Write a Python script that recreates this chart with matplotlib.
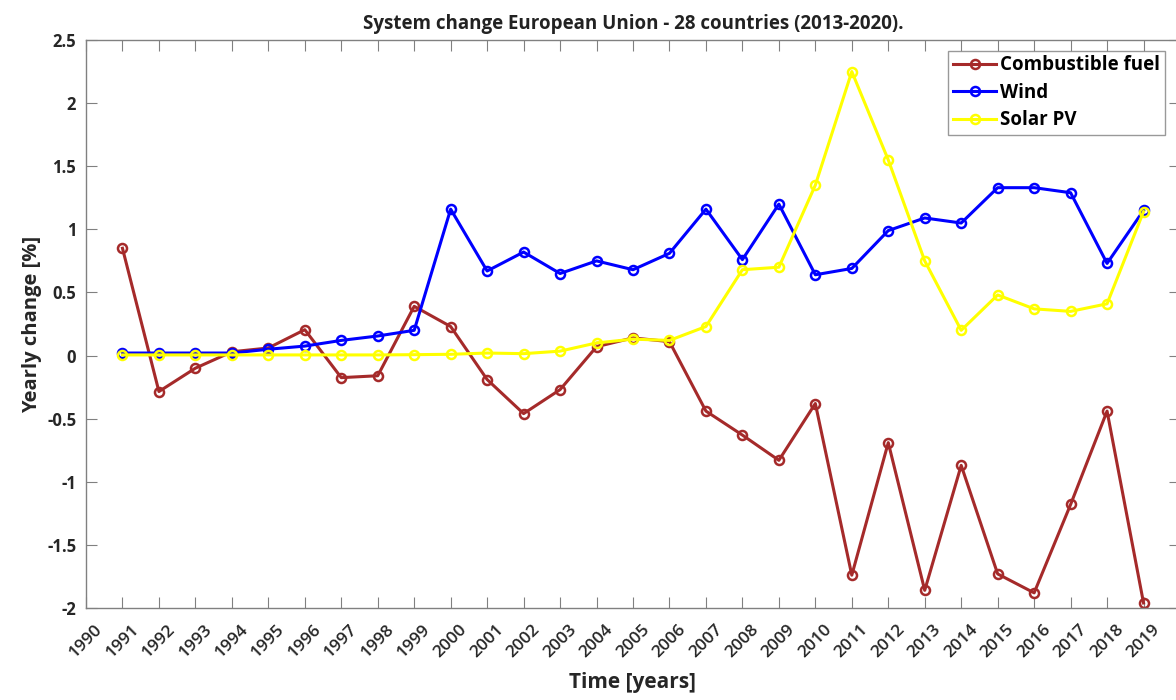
import numpy as np
import matplotlib.pyplot as plt

years = list(range(1991, 2020))

# yearly change [%]
combustible = [0.85, -0.285, -0.1, 0.03, 0.06, 0.205, -0.175, -0.16, 0.39, 0.23,
               -0.19, -0.46, -0.27, 0.07, 0.14, 0.11, -0.44, -0.63, -0.83, -0.38,
               -1.74, -0.69, -1.86, -0.87, -1.73, -1.88, -1.18, -0.44, -1.96]
wind = [0.02, 0.02, 0.02, 0.02, 0.05, 0.075, 0.12, 0.155, 0.2, 1.16,
        0.67, 0.82, 0.65, 0.75, 0.68, 0.81, 1.16, 0.76, 1.2, 0.64,
        0.69, 0.99, 1.09, 1.05, 1.33, 1.33, 1.29, 0.73, 1.15]
solar = [0.005, 0.005, 0.005, 0.005, 0.005, 0.005, 0.005, 0.005, 0.007, 0.01,
         0.02, 0.015, 0.035, 0.1, 0.13, 0.12, 0.23, 0.68, 0.70, 1.35,
         2.25, 1.55, 0.75, 0.2, 0.48, 0.37, 0.35, 0.41, 1.14]

xticks = list(range(1990, 2020))
yticks = [-2, -1.5, -1, -0.5, 0, 0.5, 1, 1.5, 2, 2.5]

plt.rcParams['font.family'] = ['Open Sans', 'DejaVu Sans']
plt.rcParams['font.weight'] = 'bold'

fig = plt.figure(figsize=(11.76, 7), dpi=100)
ax = fig.add_axes([86 / 1176, 92 / 700, 1094 / 1176, 568 / 700])

style = dict(marker='o', markerfacecolor='none', markersize=6.5, markeredgewidth=1.8, linewidth=2.2)
ax.plot(years, combustible, color='#a52a2a', label='Combustible fuel', **style)
ax.plot(years, wind, color='#0000ff', label='Wind', **style)
ax.plot(years, solar, color='#ffff00', label='Solar PV', **style)

ax.set_xlim(1990, 2020)
ax.set_ylim(-2, 2.5)
ax.set_xticks(xticks)
ax.set_xticklabels([str(x) for x in xticks], rotation=45, fontsize=12.5,
                   fontweight='semibold', color='#262626')
ax.set_yticks(yticks)
ax.set_yticklabels([('%g' % v) for v in yticks], fontsize=12, fontweight='bold', color='#262626')
ax.tick_params(direction='in', length=8, width=0.8, color='#808080', top=True, right=True)
ax.tick_params(axis='x', pad=10)
ax.tick_params(axis='y', pad=7)
for s in ax.spines.values():
    s.set_color('#808080')
    s.set_linewidth(1.0)

ax.set_title('System change European Union - 28 countries (2013-2020).', fontsize=13.5,
             fontweight='bold', color='#222222', pad=8)
ax.set_xlabel('Time [years]', fontsize=15, fontweight='bold', color='#262626', labelpad=8)
ax.set_ylabel('Yearly change [%]', fontsize=14.5, fontweight='bold', color='#262626', labelpad=4)

leg = ax.legend(loc='upper right', bbox_to_anchor=(0.986, 0.981), borderaxespad=0,
                handlelength=2.3, handletextpad=0.2, labelspacing=0.4,
                fancybox=False, borderpad=0.25,
                prop={'size': 13.5, 'weight': 'bold'})
leg.get_frame().set_edgecolor('#808080')
leg.get_frame().set_linewidth(1.0)

fig.savefig('out.png', dpi=100)
